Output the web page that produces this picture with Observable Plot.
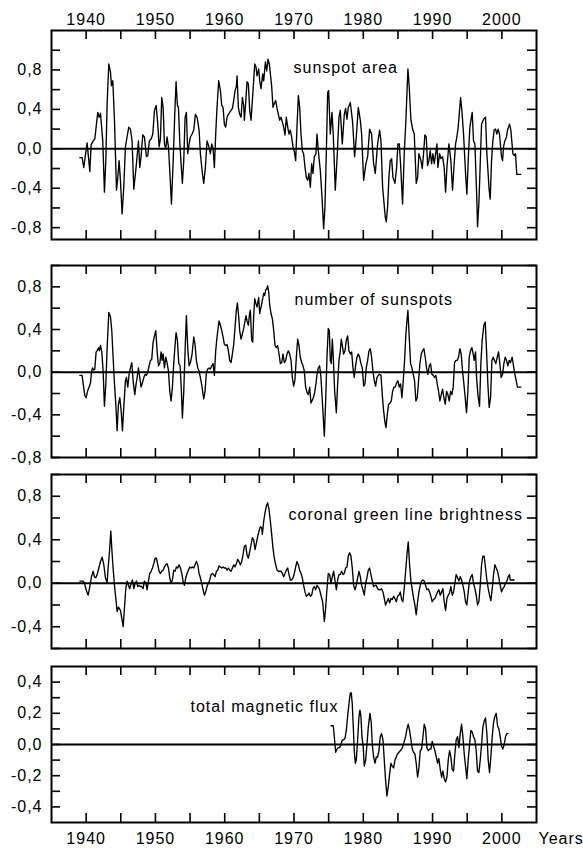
<!DOCTYPE html>
<html>
<head>
<meta charset="utf-8">
<script src="https://cdn.jsdelivr.net/npm/d3@7"></script>
<script src="https://cdn.jsdelivr.net/npm/@observablehq/plot@0.6"></script>
<style>
  html, body { margin: 0; padding: 0; background: #fff; }
  #chart { position: relative; width: 583px; height: 848px; overflow: hidden; background: #fff; }
  #chart svg { position: absolute; left: 0; }
</style>
</head>
<body>
<div id="chart"></div>
<script>
// ---------- data (year, relative deviation) ----------
const yearTicks = [1940, 1945, 1950, 1955, 1960, 1965, 1970, 1975, 1980, 1985, 1990, 1995, 2000];
const yearLabels = [1940, 1950, 1960, 1970, 1980, 1990, 2000];
const xDomain = [1935, 2005];

const sunspotArea = [
[1939.09,-0.09],[1939.42,-0.09],[1939.66,-0.19],[1940.14,0.06],[1940.53,-0.23],[1940.72,0.04],[1941.01,0.08],[1941.25,0.10],
[1941.49,0.25],[1941.68,0.37],[1941.88,0.32],[1942.07,0.36],[1942.21,0.24],[1942.40,0.08],[1942.64,-0.44],[1942.84,-0.12],
[1943.03,0.46],[1943.27,0.86],[1943.51,0.78],[1943.65,0.64],[1943.85,0.69],[1944.09,0.29],[1944.38,-0.42],[1944.57,-0.29],
[1944.76,-0.12],[1944.95,-0.32],[1945.19,-0.66],[1945.43,-0.39],[1945.67,0.02],[1945.91,0.12],[1946.15,0.22],[1946.39,0.20],
[1946.63,0.08],[1946.88,-0.41],[1947.26,-0.15],[1947.55,0.08],[1947.74,-0.19],[1947.93,-0.08],[1948.17,0.14],[1948.41,0.12],
[1948.70,-0.08],[1948.89,-0.07],[1949.13,0.08],[1949.38,0.10],[1949.62,0.15],[1949.86,0.39],[1950.10,0.44],[1950.34,0.25],
[1950.53,0.02],[1950.72,0.10],[1950.91,0.52],[1951.11,0.42],[1951.30,0.05],[1951.49,0.00],[1951.68,0.12],[1951.88,0.02],
[1952.07,-0.22],[1952.31,-0.56],[1952.55,-0.15],[1952.79,0.35],[1952.98,0.68],[1953.17,0.44],[1953.32,0.42],[1953.51,0.08],
[1953.70,-0.15],[1953.89,-0.35],[1954.09,-0.12],[1954.28,0.32],[1954.47,0.37],[1954.66,-0.05],[1954.86,0.05],[1955.05,0.12],
[1955.29,0.15],[1955.53,0.19],[1955.77,0.35],[1956.01,0.32],[1956.30,0.19],[1956.49,-0.05],[1956.73,-0.22],[1956.97,-0.35],
[1957.21,-0.19],[1957.45,0.08],[1957.69,0.03],[1957.93,-0.05],[1958.13,0.05],[1958.32,0.00],[1958.51,-0.19],[1958.70,0.15],
[1958.89,0.42],[1959.13,0.69],[1959.38,0.59],[1959.57,0.44],[1959.76,0.42],[1959.95,0.25],[1960.14,0.22],[1960.34,0.32],
[1960.53,0.35],[1960.72,0.37],[1960.91,0.39],[1961.11,0.41],[1961.30,0.49],[1961.49,0.59],[1961.68,0.63],[1961.78,0.74],
[1961.97,0.42],[1962.16,0.35],[1962.36,0.32],[1962.55,0.52],[1962.74,0.44],[1962.84,0.29],[1963.03,0.47],[1963.22,0.68],
[1963.41,0.66],[1963.61,0.39],[1963.80,0.29],[1963.99,0.49],[1964.18,0.69],[1964.33,0.86],[1964.52,0.83],[1964.66,0.74],
[1964.90,0.81],[1965.05,0.69],[1965.24,0.61],[1965.48,0.76],[1965.63,0.69],[1965.87,0.88],[1966.06,0.79],[1966.25,0.91],
[1966.44,0.86],[1966.59,0.76],[1966.78,0.63],[1966.97,0.42],[1967.16,0.46],[1967.36,0.49],[1967.55,0.41],[1967.74,0.35],
[1967.93,0.29],[1968.13,0.32],[1968.32,0.27],[1968.51,0.22],[1968.70,0.14],[1968.89,0.32],[1969.09,0.22],[1969.28,0.15],
[1969.47,0.19],[1969.66,0.12],[1969.86,0.02],[1970.05,-0.03],[1970.24,-0.12],[1970.43,0.22],[1970.63,0.54],[1970.82,0.42],
[1971.01,0.15],[1971.20,-0.02],[1971.39,-0.05],[1971.59,-0.19],[1971.78,-0.29],[1971.97,-0.32],[1972.16,-0.25],[1972.36,-0.39],
[1972.55,-0.15],[1972.74,-0.25],[1972.93,-0.08],[1973.17,-0.05],[1973.32,0.15],[1973.51,-0.02],[1973.80,-0.22],[1974.04,-0.49],
[1974.28,-0.81],[1974.47,-0.59],[1974.66,-0.05],[1974.86,0.57],[1975.00,0.59],[1975.24,0.15],[1975.48,0.37],[1975.67,0.14],
[1975.96,-0.42],[1976.25,-0.05],[1976.49,0.32],[1976.68,0.39],[1976.97,0.05],[1977.26,0.35],[1977.45,0.41],[1977.64,0.30],
[1977.84,0.42],[1978.13,0.47],[1978.46,0.27],[1978.75,-0.08],[1978.99,0.12],[1979.28,0.42],[1979.57,0.29],[1979.76,0.15],
[1980.05,-0.32],[1980.38,-0.15],[1980.63,-0.08],[1980.91,0.20],[1981.20,0.15],[1981.49,-0.15],[1981.73,-0.25],[1982.07,0.05],
[1982.36,0.19],[1982.55,0.08],[1982.79,-0.39],[1983.17,-0.69],[1983.32,-0.74],[1983.51,-0.59],[1983.70,-0.29],[1983.89,-0.12],
[1984.09,-0.10],[1984.28,-0.29],[1984.57,-0.35],[1984.81,-0.19],[1985.00,0.05],[1985.19,0.05],[1985.38,-0.15],[1985.67,-0.56],
[1985.91,-0.05],[1986.15,0.29],[1986.44,0.81],[1986.63,0.63],[1986.88,0.29],[1987.12,0.20],[1987.36,0.15],[1987.64,-0.35],
[1987.84,-0.29],[1988.03,-0.05],[1988.32,-0.12],[1988.51,-0.20],[1988.70,-0.05],[1988.89,0.14],[1989.09,0.12],[1989.28,-0.17],
[1989.47,-0.12],[1989.66,-0.02],[1989.86,-0.15],[1990.05,-0.05],[1990.24,-0.15],[1990.48,-0.03],[1990.63,0.05],[1990.77,-0.19],
[1991.01,-0.05],[1991.20,-0.10],[1991.44,-0.08],[1991.68,-0.19],[1991.88,-0.44],[1992.07,-0.19],[1992.36,0.05],[1992.64,-0.12],
[1992.88,-0.42],[1993.08,-0.19],[1993.32,0.05],[1993.51,0.12],[1993.70,0.22],[1994.04,0.52],[1994.23,0.39],[1994.47,0.15],
[1994.76,-0.25],[1994.95,-0.46],[1995.19,-0.05],[1995.38,0.22],[1995.72,0.37],[1995.91,0.08],[1996.11,0.05],[1996.39,-0.52],
[1996.49,-0.79],[1996.68,-0.56],[1996.88,-0.15],[1997.07,0.25],[1997.36,0.30],[1997.64,0.32],[1997.84,-0.05],[1998.17,-0.42],
[1998.32,-0.51],[1998.51,-0.12],[1998.70,0.08],[1998.89,0.19],[1999.09,0.20],[1999.28,0.15],[1999.47,0.20],[1999.66,0.15],
[1999.95,-0.08],[2000.10,-0.12],[2000.24,0.02],[2000.43,0.08],[2000.67,0.12],[2000.82,0.19],[2001.11,0.25],[2001.30,0.19],
[2001.59,-0.05],[2001.78,-0.07],[2001.97,-0.05],[2002.16,-0.26],[2002.74,-0.26]
];

const sunspotNumber = [
[1939.09,-0.03],[1939.42,-0.03],[1939.57,-0.11],[1939.81,-0.22],[1940.00,-0.24],[1940.19,-0.18],[1940.43,-0.14],[1940.63,-0.10],
[1940.77,0.00],[1940.91,0.04],[1941.11,0.02],[1941.25,0.03],[1941.44,0.19],[1941.59,0.20],[1941.78,0.23],[1941.92,0.20],
[1942.07,0.25],[1942.26,0.19],[1942.45,0.01],[1942.64,-0.32],[1942.84,-0.11],[1943.03,0.23],[1943.27,0.56],[1943.51,0.52],
[1943.70,0.39],[1943.89,0.14],[1944.09,-0.11],[1944.28,-0.30],[1944.47,-0.55],[1944.66,-0.30],[1944.86,-0.24],[1945.05,-0.36],
[1945.24,-0.55],[1945.43,-0.33],[1945.67,-0.08],[1945.82,-0.05],[1946.01,-0.14],[1946.20,-0.02],[1946.39,0.04],[1946.59,0.09],
[1946.78,-0.08],[1947.02,-0.21],[1947.21,-0.11],[1947.36,-0.05],[1947.55,0.04],[1947.74,-0.05],[1947.93,-0.14],[1948.13,-0.10],
[1948.32,-0.05],[1948.51,-0.02],[1948.70,-0.03],[1948.89,0.00],[1949.09,0.06],[1949.28,0.11],[1949.47,0.12],[1949.66,0.28],
[1949.86,0.34],[1950.05,0.39],[1950.24,0.20],[1950.43,0.06],[1950.63,0.08],[1950.82,0.19],[1950.96,0.11],[1951.11,0.17],
[1951.30,0.04],[1951.49,0.14],[1951.68,0.09],[1951.88,0.01],[1952.07,-0.18],[1952.26,-0.27],[1952.45,-0.14],[1952.64,0.08],
[1952.84,0.26],[1952.98,0.37],[1953.17,0.30],[1953.37,0.08],[1953.56,0.06],[1953.75,-0.18],[1953.89,-0.43],[1954.09,-0.18],
[1954.28,0.20],[1954.47,0.53],[1954.66,0.23],[1954.86,0.06],[1955.05,0.09],[1955.29,0.17],[1955.53,0.33],[1955.72,0.26],
[1955.91,0.11],[1956.11,0.04],[1956.30,0.01],[1956.49,-0.05],[1956.73,-0.14],[1956.97,-0.25],[1957.16,-0.18],[1957.36,0.00],
[1957.55,0.03],[1957.74,0.04],[1957.93,0.03],[1958.13,0.06],[1958.32,0.08],[1958.51,-0.03],[1958.70,0.20],[1958.89,0.33],
[1959.18,0.48],[1959.38,0.44],[1959.57,0.39],[1959.76,0.33],[1959.95,0.26],[1960.14,0.25],[1960.34,0.26],[1960.53,0.20],
[1960.72,0.11],[1960.91,0.09],[1961.11,0.17],[1961.30,0.26],[1961.49,0.42],[1961.68,0.58],[1961.83,0.65],[1962.02,0.52],
[1962.16,0.39],[1962.36,0.31],[1962.55,0.36],[1962.74,0.41],[1962.93,0.48],[1963.08,0.53],[1963.22,0.48],[1963.41,0.44],
[1963.61,0.56],[1963.70,0.58],[1963.89,0.30],[1964.04,0.28],[1964.18,0.52],[1964.33,0.69],[1964.52,0.64],[1964.66,0.61],
[1964.90,0.70],[1965.05,0.55],[1965.24,0.61],[1965.43,0.67],[1965.63,0.74],[1965.77,0.72],[1965.91,0.77],[1966.06,0.78],
[1966.20,0.81],[1966.35,0.75],[1966.49,0.63],[1966.68,0.55],[1966.88,0.50],[1967.07,0.39],[1967.26,0.25],[1967.45,0.23],
[1967.64,0.25],[1967.84,0.17],[1968.03,0.08],[1968.22,0.09],[1968.41,0.17],[1968.61,0.09],[1968.80,0.11],[1968.99,0.17],
[1969.18,0.20],[1969.38,0.17],[1969.57,0.11],[1969.76,-0.05],[1969.95,-0.13],[1970.14,-0.07],[1970.34,0.14],[1970.53,0.31],
[1970.72,0.25],[1970.91,0.14],[1971.11,0.09],[1971.30,0.06],[1971.49,0.01],[1971.68,-0.14],[1971.88,-0.19],[1972.07,-0.21],
[1972.26,-0.14],[1972.45,-0.29],[1972.79,-0.24],[1972.98,-0.19],[1973.17,-0.11],[1973.32,-0.02],[1973.51,0.04],[1973.70,0.06],
[1973.89,-0.05],[1974.09,-0.27],[1974.28,-0.49],[1974.38,-0.60],[1974.57,-0.27],[1974.76,0.14],[1974.95,0.41],[1975.10,0.39],
[1975.24,0.11],[1975.38,0.08],[1975.53,0.31],[1975.67,0.14],[1975.87,-0.18],[1976.11,-0.38],[1976.30,-0.11],[1976.49,0.11],
[1976.68,0.20],[1976.83,0.31],[1977.02,0.23],[1977.16,0.17],[1977.36,0.20],[1977.55,0.30],[1977.74,0.34],[1977.93,0.20],
[1978.13,0.17],[1978.32,0.19],[1978.51,0.04],[1978.70,-0.05],[1978.89,0.06],[1979.09,0.14],[1979.28,0.17],[1979.47,0.14],
[1979.66,0.08],[1979.86,0.04],[1980.05,-0.13],[1980.24,-0.11],[1980.43,0.04],[1980.63,0.11],[1980.82,0.20],[1981.01,0.22],
[1981.20,0.14],[1981.39,0.01],[1981.59,-0.08],[1981.78,-0.13],[1981.97,-0.05],[1982.16,-0.03],[1982.36,-0.02],[1982.55,-0.03],
[1982.74,-0.21],[1982.93,-0.36],[1983.13,-0.47],[1983.27,-0.52],[1983.46,-0.40],[1983.65,-0.30],[1983.85,-0.29],[1984.04,-0.27],
[1984.23,-0.18],[1984.42,-0.14],[1984.62,-0.14],[1984.81,-0.10],[1985.00,-0.08],[1985.19,-0.14],[1985.38,-0.11],[1985.58,-0.24],
[1985.77,-0.08],[1985.96,0.11],[1986.15,0.36],[1986.30,0.48],[1986.44,0.58],[1986.63,0.33],[1986.83,0.08],[1987.02,0.04],
[1987.21,-0.02],[1987.40,-0.08],[1987.60,-0.27],[1987.79,-0.24],[1987.98,-0.08],[1988.17,0.08],[1988.37,0.17],[1988.56,0.20],
[1988.75,0.22],[1988.94,0.14],[1989.13,0.04],[1989.33,-0.02],[1989.52,0.06],[1989.71,0.08],[1989.90,-0.02],[1990.10,-0.03],
[1990.29,-0.05],[1990.48,-0.03],[1990.67,-0.11],[1990.87,-0.18],[1991.06,-0.27],[1991.25,-0.21],[1991.44,-0.16],[1991.63,-0.24],
[1991.83,-0.30],[1992.02,-0.18],[1992.21,-0.21],[1992.40,-0.27],[1992.60,-0.18],[1992.79,-0.21],[1992.98,-0.14],[1993.17,0.09],
[1993.37,0.11],[1993.56,0.11],[1993.75,0.14],[1993.94,0.22],[1994.13,0.17],[1994.33,0.01],[1994.52,-0.11],[1994.71,-0.24],
[1994.90,-0.38],[1995.10,-0.18],[1995.29,0.14],[1995.48,0.20],[1995.67,0.23],[1995.87,0.17],[1996.01,0.11],[1996.20,0.19],
[1996.35,-0.05],[1996.54,-0.21],[1996.78,-0.32],[1996.97,0.08],[1997.16,0.30],[1997.40,0.44],[1997.60,0.47],[1997.79,0.20],
[1997.98,-0.11],[1998.17,-0.33],[1998.37,-0.24],[1998.56,0.11],[1998.75,0.14],[1998.94,0.11],[1999.13,0.08],[1999.33,0.14],
[1999.52,0.19],[1999.71,0.08],[1999.90,-0.05],[2000.10,-0.02],[2000.29,0.08],[2000.48,0.14],[2000.67,0.11],[2000.87,0.06],
[2001.06,0.11],[2001.25,0.09],[2001.49,0.14],[2001.68,0.06],[2001.88,-0.02],[2002.07,-0.08],[2002.26,-0.14],[2002.74,-0.14]
];

const coronalBrightness = [
[1939.09,0.02],[1939.57,0.02],[1939.76,0.00],[1940.00,-0.06],[1940.29,-0.11],[1940.53,-0.03],[1940.77,0.06],[1941.01,0.11],
[1941.20,0.06],[1941.39,0.05],[1941.59,0.08],[1941.83,0.14],[1942.07,0.20],[1942.31,0.24],[1942.55,0.17],[1942.79,0.05],
[1943.03,0.00],[1943.17,0.14],[1943.37,0.29],[1943.56,0.48],[1943.70,0.32],[1943.89,0.14],[1944.09,-0.02],[1944.28,-0.14],
[1944.47,-0.26],[1944.66,-0.22],[1944.95,-0.25],[1945.14,-0.32],[1945.34,-0.40],[1945.53,-0.23],[1945.72,-0.05],[1945.91,0.02],
[1946.11,-0.02],[1946.30,-0.05],[1946.49,0.00],[1946.68,0.03],[1946.88,-0.05],[1947.07,0.00],[1947.26,0.02],[1947.45,-0.03],
[1947.64,-0.02],[1947.84,-0.03],[1948.03,-0.03],[1948.22,-0.05],[1948.41,0.02],[1948.61,0.00],[1948.80,-0.06],[1948.99,0.02],
[1949.18,0.09],[1949.38,0.11],[1949.57,0.14],[1949.76,0.18],[1949.95,0.23],[1950.14,0.23],[1950.34,0.17],[1950.53,0.11],
[1950.72,0.09],[1950.91,0.11],[1951.11,0.12],[1951.30,0.15],[1951.49,0.17],[1951.68,0.18],[1951.88,0.14],[1952.07,0.05],
[1952.26,0.00],[1952.45,0.03],[1952.64,0.12],[1952.84,0.11],[1953.03,0.15],[1953.22,0.14],[1953.41,0.17],[1953.61,0.14],
[1953.80,0.09],[1953.99,0.02],[1954.18,-0.02],[1954.38,0.05],[1954.57,0.09],[1954.76,0.12],[1954.95,0.15],[1955.14,0.14],
[1955.34,0.15],[1955.53,0.14],[1955.72,0.17],[1955.91,0.20],[1956.11,0.17],[1956.30,0.09],[1956.49,0.05],[1956.68,0.00],
[1956.88,-0.06],[1957.07,-0.11],[1957.26,-0.08],[1957.45,-0.03],[1957.64,0.00],[1957.84,0.03],[1958.03,0.08],[1958.22,0.09],
[1958.41,0.08],[1958.61,0.06],[1958.80,0.11],[1958.99,0.12],[1959.18,0.16],[1959.38,0.15],[1959.57,0.14],[1959.76,0.15],
[1959.95,0.14],[1960.14,0.14],[1960.34,0.12],[1960.53,0.14],[1960.72,0.12],[1960.91,0.11],[1961.11,0.14],[1961.30,0.17],
[1961.49,0.15],[1961.68,0.18],[1961.88,0.22],[1962.07,0.20],[1962.26,0.17],[1962.45,0.20],[1962.64,0.26],[1962.84,0.34],
[1963.03,0.35],[1963.22,0.26],[1963.41,0.23],[1963.61,0.29],[1963.80,0.35],[1963.99,0.42],[1964.18,0.40],[1964.38,0.31],
[1964.57,0.37],[1964.76,0.43],[1964.95,0.48],[1965.14,0.52],[1965.34,0.51],[1965.43,0.45],[1965.63,0.57],[1965.82,0.65],
[1966.01,0.71],[1966.20,0.74],[1966.39,0.68],[1966.59,0.57],[1966.78,0.45],[1966.97,0.32],[1967.16,0.23],[1967.36,0.17],
[1967.55,0.12],[1967.74,0.11],[1967.93,0.11],[1968.13,0.11],[1968.32,0.09],[1968.51,0.06],[1968.70,0.09],[1968.89,0.12],
[1969.09,0.14],[1969.28,0.08],[1969.47,0.03],[1969.66,0.03],[1969.86,0.05],[1970.05,0.09],[1970.24,0.15],[1970.43,0.20],
[1970.63,0.17],[1970.82,0.12],[1971.01,0.09],[1971.20,0.05],[1971.39,-0.02],[1971.59,-0.08],[1971.78,-0.12],[1971.97,-0.11],
[1972.16,-0.09],[1972.36,-0.12],[1972.55,-0.11],[1972.74,-0.05],[1972.93,-0.03],[1973.12,-0.06],[1973.32,-0.02],[1973.65,-0.05],
[1973.89,-0.11],[1974.13,-0.17],[1974.38,-0.35],[1974.57,-0.23],[1974.76,-0.05],[1974.95,0.09],[1975.14,0.08],[1975.34,0.00],
[1975.53,0.06],[1975.72,0.11],[1975.91,0.03],[1976.11,-0.06],[1976.30,0.03],[1976.49,0.08],[1976.68,0.08],[1976.88,0.11],
[1977.07,0.08],[1977.26,0.09],[1977.45,0.14],[1977.64,0.15],[1977.84,0.25],[1978.03,0.28],[1978.22,0.25],[1978.41,0.14],
[1978.61,-0.02],[1978.80,-0.06],[1978.99,-0.02],[1979.18,0.05],[1979.38,0.11],[1979.57,0.06],[1979.76,-0.02],[1979.95,-0.06],
[1980.14,-0.11],[1980.34,0.00],[1980.53,0.05],[1980.72,0.12],[1980.91,0.14],[1981.11,0.08],[1981.30,0.02],[1981.49,-0.03],
[1981.68,-0.02],[1981.88,-0.02],[1982.07,-0.05],[1982.26,-0.06],[1982.45,-0.06],[1982.64,-0.05],[1982.84,-0.08],[1983.03,-0.14],
[1983.22,-0.20],[1983.41,-0.17],[1983.61,-0.14],[1983.80,-0.18],[1983.99,-0.14],[1984.18,-0.15],[1984.38,-0.12],[1984.57,-0.14],
[1984.76,-0.17],[1984.95,-0.12],[1985.14,-0.11],[1985.34,-0.08],[1985.53,-0.15],[1985.72,-0.17],[1985.91,-0.05],[1986.11,0.11],
[1986.30,0.26],[1986.49,0.38],[1986.68,0.17],[1986.88,0.02],[1987.07,-0.06],[1987.26,-0.14],[1987.45,-0.20],[1987.64,-0.29],
[1987.84,-0.17],[1988.03,-0.08],[1988.22,-0.02],[1988.41,0.02],[1988.61,0.03],[1988.80,0.02],[1988.99,-0.02],[1989.18,-0.06],
[1989.38,-0.05],[1989.57,-0.08],[1989.76,-0.12],[1989.95,-0.17],[1990.14,-0.15],[1990.34,-0.14],[1990.53,-0.11],[1990.72,-0.08],
[1990.91,-0.06],[1991.11,-0.11],[1991.30,-0.08],[1991.49,-0.05],[1991.68,-0.17],[1991.88,-0.25],[1992.07,-0.14],[1992.26,-0.11],
[1992.45,-0.09],[1992.64,-0.03],[1992.84,-0.11],[1993.03,-0.08],[1993.22,0.00],[1993.41,0.08],[1993.61,0.05],[1993.80,0.02],
[1993.99,0.06],[1994.18,0.03],[1994.38,-0.02],[1994.57,-0.08],[1994.76,-0.17],[1994.95,-0.20],[1995.14,-0.08],[1995.34,0.02],
[1995.53,0.06],[1995.72,0.08],[1995.91,0.00],[1996.11,-0.05],[1996.30,-0.11],[1996.49,-0.20],[1996.68,-0.17],[1996.88,-0.02],
[1997.07,0.17],[1997.26,0.25],[1997.45,0.25],[1997.64,0.14],[1997.84,0.03],[1998.03,-0.05],[1998.22,-0.11],[1998.41,-0.16],
[1998.61,-0.05],[1998.80,0.08],[1998.99,0.17],[1999.18,0.14],[1999.38,0.11],[1999.57,0.05],[1999.76,-0.02],[1999.95,-0.08],
[2000.14,-0.05],[2000.34,-0.03],[2000.53,0.00],[2000.72,0.02],[2000.91,0.06],[2001.11,0.08],[2001.20,0.03],[2001.39,0.03],
[2001.78,0.03]
];

const magneticFlux = [
[1975.34,0.12],[1975.67,0.12],[1975.82,0.05],[1976.01,-0.05],[1976.20,-0.03],[1976.39,-0.02],[1976.59,-0.02],[1976.78,0.00],
[1976.97,0.03],[1977.16,0.03],[1977.36,0.04],[1977.55,0.09],[1977.74,0.18],[1977.93,0.26],[1978.13,0.33],[1978.27,0.33],
[1978.41,0.26],[1978.56,0.11],[1978.70,-0.04],[1978.85,-0.12],[1978.99,-0.10],[1979.18,0.03],[1979.38,0.18],[1979.52,0.22],
[1979.66,0.18],[1979.81,0.05],[1980.00,-0.02],[1980.14,-0.14],[1980.34,-0.10],[1980.53,0.00],[1980.72,0.11],[1980.96,0.20],
[1981.15,0.14],[1981.30,0.00],[1981.49,-0.08],[1981.68,-0.12],[1981.88,-0.08],[1982.07,-0.08],[1982.26,-0.04],[1982.45,0.05],
[1982.64,0.07],[1982.84,0.03],[1983.03,-0.10],[1983.22,-0.23],[1983.41,-0.33],[1983.61,-0.27],[1983.80,-0.19],[1983.99,-0.12],
[1984.18,-0.14],[1984.38,-0.15],[1984.57,-0.10],[1984.76,-0.08],[1984.95,-0.06],[1985.14,-0.05],[1985.34,-0.04],[1985.53,-0.03],
[1985.72,-0.01],[1985.91,0.02],[1986.11,0.05],[1986.30,0.10],[1986.49,0.13],[1986.68,0.09],[1986.88,0.03],[1987.07,-0.03],
[1987.26,-0.05],[1987.45,-0.06],[1987.64,-0.12],[1987.84,-0.21],[1988.03,-0.15],[1988.22,-0.04],[1988.41,-0.03],[1988.61,0.05],
[1988.80,0.13],[1988.99,0.10],[1989.18,-0.02],[1989.38,-0.04],[1989.57,-0.03],[1989.76,-0.03],[1989.95,0.02],[1990.14,-0.01],
[1990.34,-0.04],[1990.53,-0.08],[1990.72,-0.12],[1990.91,-0.09],[1991.11,-0.16],[1991.30,-0.21],[1991.49,-0.17],[1991.68,-0.22],
[1991.88,-0.24],[1992.07,-0.21],[1992.26,-0.10],[1992.45,-0.04],[1992.64,-0.08],[1992.84,-0.16],[1993.03,-0.17],[1993.22,-0.06],
[1993.41,0.03],[1993.61,0.05],[1993.80,-0.02],[1993.99,0.07],[1994.18,0.13],[1994.38,0.05],[1994.57,-0.06],[1994.76,-0.14],
[1994.95,-0.22],[1995.14,-0.10],[1995.34,0.00],[1995.53,0.09],[1995.72,0.08],[1995.91,0.05],[1996.11,0.03],[1996.30,-0.04],
[1996.49,-0.17],[1996.68,-0.18],[1996.88,-0.10],[1997.07,0.00],[1997.26,0.11],[1997.45,0.15],[1997.64,0.17],[1997.84,0.07],
[1998.03,-0.10],[1998.22,-0.18],[1998.41,-0.08],[1998.61,0.05],[1998.80,0.14],[1998.99,0.18],[1999.18,0.20],[1999.38,0.12],
[1999.57,0.10],[1999.76,0.05],[1999.95,-0.01],[2000.14,-0.03],[2000.34,0.00],[2000.53,0.05],[2000.72,0.07],[2000.91,0.07]
];

const panelNames = ["sunspot area", "number of sunspots", "coronal green line brightness", "total magnetic flux"];
const yDomains = [[-0.92, 1.2], [-0.8, 1.0], [-0.6, 1.0], [-0.5, 0.5]];
const yTickSets = [
  [-0.8, -0.6, -0.4, -0.2, 0, 0.2, 0.4, 0.6, 0.8, 1.0],
  [-0.8, -0.6, -0.4, -0.2, 0, 0.2, 0.4, 0.6, 0.8, 1.0],
  [-0.6, -0.4, -0.2, 0, 0.2, 0.4, 0.6, 0.8, 1.0],
  [-0.4, -0.3, -0.2, -0.1, 0, 0.1, 0.2, 0.3, 0.4]
];
const yLabelSets = [
  [-0.8, -0.4, 0, 0.4, 0.8],
  [-0.8, -0.4, 0, 0.4, 0.8],
  [-0.4, 0, 0.4, 0.8],
  [-0.4, -0.2, 0, 0.2, 0.4]
];
const xAxisLabel = "Years";

// ---------- layout ----------
const W = 583, ML = 51, MR = 47;
const layout = [
  {top: 0,   height: 250, mt: 30, mb: 11, dx: 242, dy: 37, axis: "top"},
  {top: 250, height: 215, mt: 15, mb: 8,  dx: 243, dy: 34, axis: null},
  {top: 465, height: 190, mt: 9,  mb: 7,  dx: 237, dy: 40, axis: null},
  {top: 655, height: 193, mt: 11, mb: 26, dx: 139, dy: 40, axis: "bottom"}
];
const series = [sunspotArea, sunspotNumber, coronalBrightness, magneticFlux];
const fmt = d => d.toFixed(1).replace(".", ",");
const tickLen = 9;

const chart = document.getElementById("chart");
series.forEach((data, i) => {
  const L = layout[i];
  const innerW = W - ML - MR;
  const innerH = L.height - L.mt - L.mb;
  const marks = [
    Plot.ruleY([0], {stroke: "black", strokeWidth: 2}),
    Plot.line(data, {x: d => d[0], y: d => d[1], stroke: "black", strokeWidth: 1.35}),
    Plot.ruleY(yTickSets[i], {stroke: "black", strokeWidth: 1.6, insetRight: innerW - tickLen}),
    Plot.ruleY(yTickSets[i], {stroke: "black", strokeWidth: 1.6, insetLeft: innerW - tickLen}),
    Plot.ruleX(yearTicks, {stroke: "black", strokeWidth: 1.6, insetBottom: innerH - tickLen}),
    Plot.ruleX(yearTicks, {stroke: "black", strokeWidth: 1.6, insetTop: innerH - tickLen}),
    Plot.frame({stroke: "black", strokeWidth: 2}),
    Plot.axisY({ticks: yLabelSets[i], tickSize: 0, tickPadding: 9, tickFormat: fmt}),
    Plot.text([panelNames[i]], {frameAnchor: "top-left", dx: L.dx, dy: L.dy, textAnchor: "start", lineAnchor: "middle", fill: "black"})
  ];
  if (L.axis === "top") {
    marks.push(Plot.axisX({anchor: "top", ticks: yearLabels, tickSize: 0, tickPadding: 6, tickFormat: d => String(d)}));
  } else if (L.axis === "bottom") {
    marks.push(Plot.axisX({anchor: "bottom", ticks: yearLabels, tickSize: 0, tickPadding: 10, tickFormat: d => String(d)}));
    marks.push(Plot.text([xAxisLabel], {frameAnchor: "bottom-right", dx: 2, dy: 10, textAnchor: "start", lineAnchor: "top", fill: "black"}));
  }
  const svg = Plot.plot({
    width: W,
    height: L.height,
    marginLeft: ML,
    marginRight: MR,
    marginTop: L.mt,
    marginBottom: L.mb,
    x: {domain: xDomain, axis: null},
    y: {domain: yDomains[i], axis: null},
    style: {fontFamily: "'Liberation Sans', Arial, sans-serif", fontSize: "16px", letterSpacing: "1px", color: "black", background: "white", overflow: "visible"},
    marks
  });
  svg.style.top = L.top + "px";
  chart.appendChild(svg);
});
</script>
</body>
</html>
